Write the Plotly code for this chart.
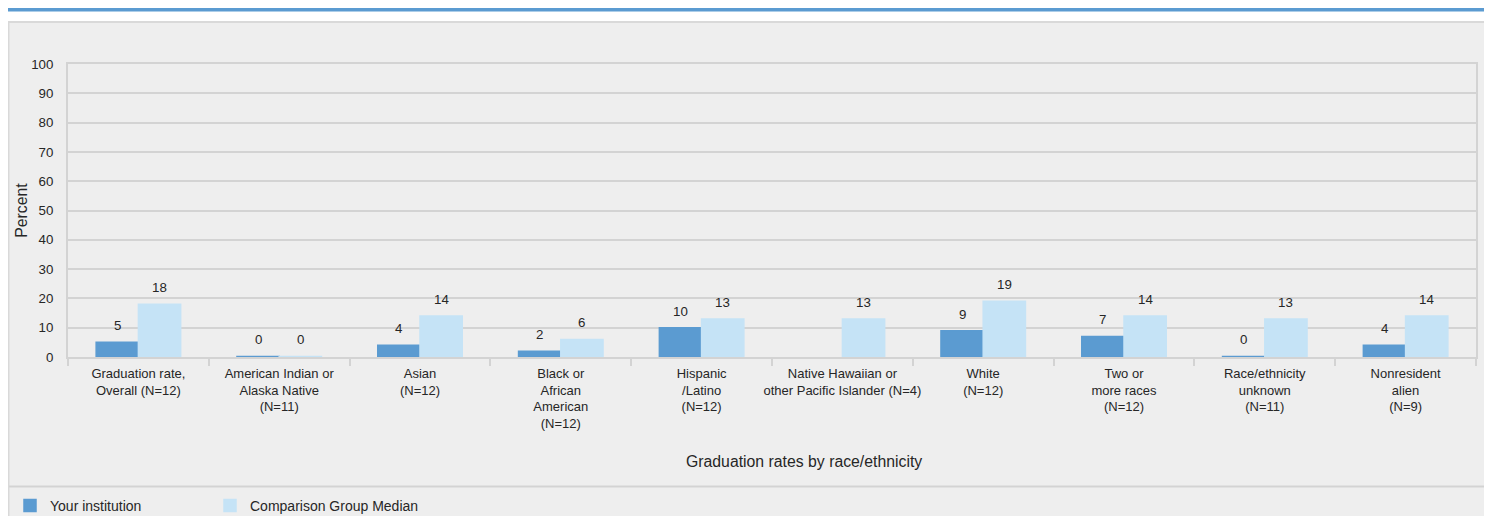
import plotly.graph_objects as go

categories = [
    "Graduation rate,<br>Overall (N=12)",
    "American Indian or<br>Alaska Native<br>(N=11)",
    "Asian<br>(N=12)",
    "Black or<br>African<br>American<br>(N=12)",
    "Hispanic<br>/Latino<br>(N=12)",
    "Native Hawaiian or<br>other Pacific Islander (N=4)",
    "White<br>(N=12)",
    "Two or<br>more races<br>(N=12)",
    "Race/ethnicity<br>unknown<br>(N=11)",
    "Nonresident<br>alien<br>(N=9)",
]
your_institution = [5, 0.2, 4, 2, 10, None, 9, 7, 0.2, 4]
your_labels = ["5", "0", "4", "2", "10", "", "9", "7", "0", "4"]
comparison_median = [18, 0.2, 14, 6, 13, 13, 19, 14, 13, 14]
comparison_labels = ["18", "0", "14", "6", "13", "13", "19", "14", "13", "14"]
y_ticks = [0, 10, 20, 30, 40, 50, 60, 70, 80, 90, 100]
x_title = "Graduation rates by race/ethnicity"
y_title = "Percent"

DARK = "#5b9bd1"
LIGHT = "#c5e3f6"
GRID = "#d3d3d3"
TXT = "#262626"
FONT = "Liberation Sans, Arial, sans-serif"

# page body has an 8px margin: figure covers reference pixels 8..1492 / 8..516
OFF = 8
W, H = 1492 - OFF, 516 - OFF
L, T = 68 - OFF, 64 - OFF
R = W - (1476 - OFF)
B = H - (357 - OFF)
PW, PH = W - L - R, H - T - B


def px(x):  # reference pixel -> paper
    return (x - OFF - L) / PW


def py(y):
    return (H - B - (y - OFF)) / PH


fig = go.Figure()
fig.add_trace(go.Bar(name="Your institution", x=categories, y=your_institution,
                     marker=dict(color=DARK, line=dict(color=DARK, width=1.5)),
                     hoverinfo="skip", legendwidth=155))
fig.add_trace(go.Bar(name="Comparison Group Median", x=categories, y=comparison_median,
                     marker=dict(color=LIGHT, line=dict(color=LIGHT, width=1.5)),
                     hoverinfo="skip", legendwidth=240))

bar_px = PW / len(categories) * 0.3
annotations = []
for i, (v, t) in enumerate(zip(your_institution, your_labels)):
    if v is not None and t:
        annotations.append(dict(x=i, y=v, xref="x", yref="y", text=t, showarrow=False,
                                xshift=-bar_px / 2, yshift=7, yanchor="bottom",
                                font=dict(size=13.3, color=TXT, family=FONT)))
for i, (v, t) in enumerate(zip(comparison_median, comparison_labels)):
    if v is not None and t:
        annotations.append(dict(x=i, y=v, xref="x", yref="y", text=t, showarrow=False,
                                xshift=bar_px / 2, yshift=7, yanchor="bottom",
                                font=dict(size=13.3, color=TXT, family=FONT)))
annotations.append(dict(x=px(804), y=py(461), xref="paper", yref="paper", text=x_title,
                        showarrow=False, xanchor="center", yanchor="middle",
                        font=dict(size=15.8, color=TXT, family=FONT)))

shapes = [
    dict(type="rect", xref="paper", yref="paper", x0=px(8.5), x1=px(1486.5),
         y0=py(540), y1=py(22), fillcolor="#eeeeee", line=dict(color="#d9d9d9", width=2),
         layer="below"),
    dict(type="rect", xref="paper", yref="paper", x0=px(8), x1=px(1492),
         y0=py(11.5), y1=py(7.5), fillcolor=DARK, line=dict(width=0), layer="below"),
    dict(type="line", xref="paper", yref="paper", x0=px(9), x1=px(1486),
         y0=py(486.5), y1=py(486.5), line=dict(color="#d3d3d3", width=2), layer="below"),
]

fig.update_layout(
    width=W, height=H,
    margin=dict(l=L, r=R, t=T, b=B, autoexpand=False),
    paper_bgcolor="white",
    plot_bgcolor="rgba(0,0,0,0)",
    barmode="group", bargap=0.4, bargroupgap=0,
    font=dict(family=FONT, size=13.3, color=TXT),
    shapes=shapes,
    annotations=annotations,
    showlegend=True,
    legend=dict(orientation="h", x=px(10), xanchor="left", y=py(490), yanchor="top",
                bgcolor="rgba(0,0,0,0)", font=dict(size=14, color=TXT, family=FONT),
                traceorder="normal"),
    xaxis=dict(
        type="category", tickson="boundaries", ticks="outside", ticklen=7, tickwidth=2,
        tickcolor=GRID, showline=True, linecolor=GRID, linewidth=2, mirror=True,
        showgrid=False, tickangle=0, ticklabelstandoff=3,
        tickfont=dict(size=13, color=TXT),
        automargin=False, fixedrange=True,
    ),
    yaxis=dict(
        range=[0, 100], tickvals=y_ticks, showgrid=True, gridcolor=GRID, gridwidth=2,
        showline=True, linecolor=GRID, linewidth=2, mirror=True, zeroline=False,
        ticks="", ticklabelstandoff=10, tickfont=dict(size=13.3, color=TXT),
        title=dict(text=y_title, standoff=0, font=dict(size=15.8, color=TXT)),
        automargin=False, fixedrange=True,
    ),
)

fig.write_html("out.html", config={"displayModeBar": False})
